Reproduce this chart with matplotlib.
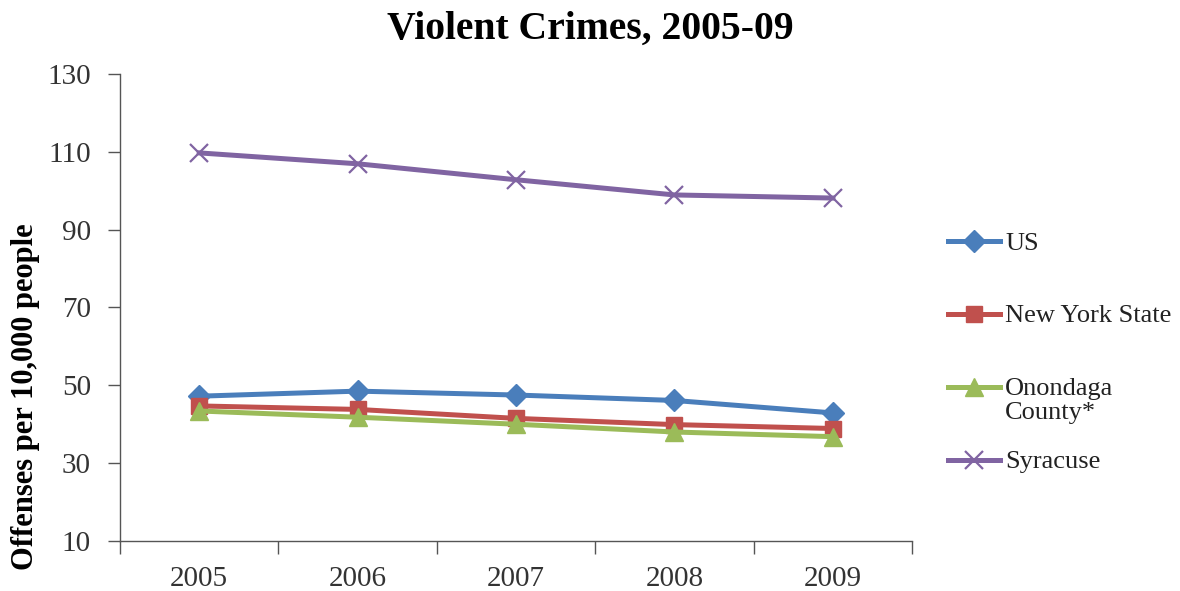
import matplotlib
matplotlib.use("Agg")
import matplotlib.pyplot as plt
from matplotlib.lines import Line2D
import numpy as np

years = ["2005", "2006", "2007", "2008", "2009"]
us = [47.2, 48.5, 47.5, 46.1, 42.9]
nys = [44.7, 43.8, 41.5, 39.9, 38.9]
onondaga = [43.4, 41.8, 40.0, 38.0, 36.8]
syracuse = [109.7, 106.9, 102.8, 98.9, 98.1]

series_names = ["US", "New York State", "Onondaga\nCounty*", "Syracuse"]
colors = ["#4a7ebb", "#c0504d", "#9bbb59", "#8064a2"]
markers = ["D", "s", "^", "x"]
yticks = [10, 30, 50, 70, 90, 110, 130]

plt.rcParams['font.family'] = ['Liberation Serif', 'DejaVu Serif']

fig = plt.figure(figsize=(11.8, 5.91), dpi=100)
ax = fig.add_axes([0.1017, 0.0846, 0.6713, 0.7904])

x = np.arange(len(years))
data = [us, nys, onondaga, syracuse]
msizes = [11, 11, 13, 13]
styles = []
for vals, name, c, m, ms in zip(data, series_names, colors, markers, msizes):
    kw = dict(color=c, lw=3.6, marker=m, markersize=ms)
    if m == "x":
        kw.update(markeredgewidth=1.6)
    styles.append(kw)
    ax.plot(x, vals, label=name, **kw)

ax.set_xlim(-0.5, len(years) - 0.5)
ax.set_ylim(10, 130)
ax.set_yticks(yticks)
ax.set_yticklabels([str(v) for v in yticks], fontsize=21, color="#333333")
ax.set_xticks(x)
ax.set_xticklabels(years, fontsize=21, color="#333333")
ax.set_xticks(np.arange(-0.5, len(years)), minor=True)
ax.tick_params(axis='x', which='major', length=0, pad=18)
ax.tick_params(axis='x', which='minor', length=9, width=1, color="#555555")
ax.tick_params(axis='y', length=9, width=1, color="#555555", pad=12)
for s in ["top", "right"]:
    ax.spines[s].set_visible(False)
for s in ["left", "bottom"]:
    ax.spines[s].set_color("#555555")
    ax.spines[s].set_linewidth(1)

ax.set_ylabel("Offenses per 10,000 people", fontsize=22, fontweight="bold")
ax.yaxis.set_label_coords(-0.101, 0.31)
fig.text(0.5, 0.950, "Violent Crimes, 2005-09", fontsize=28.5, fontweight="bold",
         ha="center", va="center")

# legend drawn manually to match the reference layout
leg_y = [0.5922, 0.4687, 0.3452, 0.2217]
x0, x1, xt = 0.8034, 0.8475, 0.8517
for yy, name, kw in zip(leg_y, series_names, styles):
    fig.add_artist(Line2D([x0, x1], [yy, yy], transform=fig.transFigure,
                          color=kw['color'], lw=kw['lw']))
    mk = dict(kw)
    mk.pop('lw')
    fig.add_artist(Line2D([(x0 + x1) / 2], [yy], transform=fig.transFigure, lw=0, **mk))
    for i, t in enumerate(name.split("\n")):
        fig.text(xt, yy - i * 0.040, t, fontsize=19, color="#222222",
                 ha="left", va="center_baseline")

fig.savefig("out.png", dpi=100)
